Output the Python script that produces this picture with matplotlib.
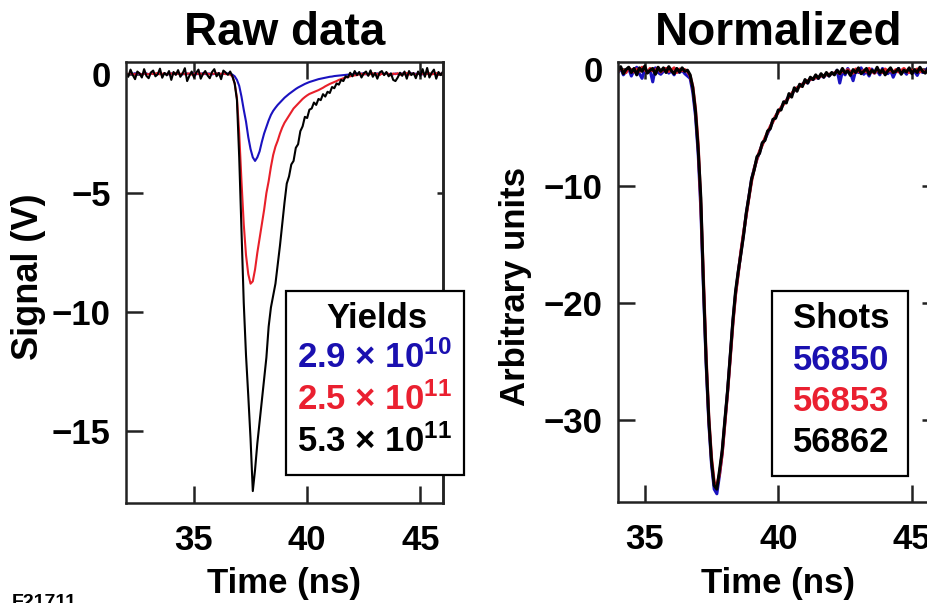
import numpy as np
import matplotlib
matplotlib.use("Agg")
import matplotlib.pyplot as plt
from matplotlib.patches import Rectangle

plt.rcParams['font.family'] = ['Liberation Sans', 'DejaVu Sans']
plt.rcParams['font.weight'] = 'bold'
plt.rcParams['mathtext.fontset'] = 'custom'
plt.rcParams['mathtext.rm'] = 'Liberation Sans:bold'
plt.rcParams['mathtext.it'] = 'Liberation Sans:bold'
plt.rcParams['mathtext.bf'] = 'Liberation Sans:bold'

# ---------------- data ----------------
# raw data sampled every 0.1 ns from 32.0 to 46.0 ns
raw_time = np.round(np.arange(320, 461) / 10.0, 1)

raw_black = [
    0.05, -0.12, 0.18, -0.05, -0.22, 0.10, 0.02, -0.15, 0.20, -0.08,
    -0.18, 0.06, 0.14, -0.10, -0.02, 0.22, -0.16, 0.04, -0.06, 0.12,
    -0.25, 0.08, -0.04, 0.16, -0.12, 0.02, 0.24, -0.30, -0.08, 0.10,
    -0.14, 0.05, 0.18, -0.20, 0.00, 0.12, -0.06, -0.18, 0.08, 0.20,
    -0.10, 0.04, -0.22, 0.14, 0.06, -0.04, 0.10,
    -0.10, -0.40, -1.10,
    -3.50, -6.50, -9.60, -11.80, -13.50, -15.30, -17.50, -16.60, -15.50, -14.60,
    -13.70, -12.80, -11.90, -10.60, -9.80, -9.30, -8.80, -8.00, -7.20, -6.30,
    -5.40, -4.60, -4.30, -3.80, -3.65, -3.10, -2.95, -2.40, -2.20, -1.80,
    -1.85, -1.50, -1.45, -1.20, -1.30, -1.05, -1.10, -0.85, -0.95, -0.75,
    -0.80, -0.55, -0.60, -0.40, -0.45, -0.25, -0.30, -0.10, -0.15,
    0.05, -0.10, 0.12, -0.05, 0.08, -0.15, 0.02, 0.10, -0.08, 0.15,
    -0.12, 0.04, -0.20, 0.06, 0.12, -0.05, 0.08, -0.10, 0.02, -0.25,
    -0.30, -0.15, 0.05, -0.08, 0.10, -0.20, 0.12, -0.05, 0.04, -0.18,
    0.10, -0.08, 0.20, -0.12, 0.25, -0.15, 0.05, 0.18, -0.20, 0.08,
    -0.05, 0.10,
]

raw_red = [
    0.02, -0.01, 0.03, 0.00, -0.02, 0.04, 0.01, -0.03, 0.02, 0.00,
    -0.02, 0.03, -0.01, 0.02, 0.04, -0.02, 0.00, 0.03, -0.03, 0.01,
    0.02, -0.02, 0.04, 0.00, -0.01, 0.03, -0.02, 0.01, 0.02, -0.03,
    0.00, 0.04, -0.01, 0.02, -0.02, 0.03, 0.01, -0.01, 0.02, 0.00,
    0.03, -0.02, 0.01, 0.02, -0.01, 0.00, -0.03,
    -0.10, -0.40, -1.00,
    -2.50, -4.50, -6.30, -7.60, -8.40, -8.80, -8.70, -8.20, -7.50, -6.90,
    -6.30, -5.70, -5.00, -4.50, -3.90, -3.40, -3.05, -2.80, -2.50, -2.25,
    -2.05, -1.90, -1.75, -1.60, -1.45, -1.35, -1.25, -1.15, -1.05, -0.97,
    -0.90, -0.84, -0.80, -0.76, -0.72, -0.68, -0.63, -0.58, -0.52, -0.47,
    -0.42, -0.38, -0.34, -0.30, -0.25, -0.22, -0.18, -0.15, -0.12, -0.10,
    -0.08, -0.06,
    -0.05, -0.02, 0.01, -0.03, 0.02, -0.04, 0.00, 0.03, -0.02, 0.01,
    -0.05, 0.02, -0.03, 0.04, 0.00, -0.06, 0.02, -0.01, 0.03, -0.04,
    0.01, -0.02, 0.04, -0.03, 0.00, 0.02, -0.05, 0.03, -0.01, 0.02,
    -0.04, 0.01, 0.03, -0.02, 0.00, 0.04, -0.03, 0.01, -0.01,
]

raw_blue = [
    0.01, -0.02, 0.02, 0.00, 0.03, -0.01, 0.01, -0.02, 0.00, 0.02,
    -0.01, 0.01, 0.03, -0.02, 0.00, 0.02, -0.01, 0.01, 0.00, -0.02,
    0.02, 0.01, -0.01, 0.03, 0.00, -0.02, 0.01, 0.02, -0.01, 0.00,
    0.02, -0.02, 0.01, 0.00, 0.03, -0.01, 0.01, 0.02, -0.02, 0.00,
    0.01, 0.02, -0.01, 0.01, 0.00, 0.02, 0.00,
    -0.03, -0.10, -0.25,
    -0.50, -0.95, -1.50, -2.00, -2.65, -3.15, -3.50, -3.65, -3.50, -3.25,
    -2.85, -2.50, -2.22, -1.95, -1.72, -1.55, -1.42, -1.30, -1.20, -1.10,
    -1.00, -0.92, -0.84, -0.77, -0.70, -0.63, -0.57, -0.52, -0.47, -0.42,
    -0.38, -0.34, -0.31, -0.28, -0.25, -0.22, -0.20, -0.18, -0.16, -0.14,
    -0.12, -0.11, -0.09, -0.08, -0.07, -0.06, -0.05, -0.04, -0.03, -0.03,
    -0.02,
    0.00, 0.02, -0.01, 0.01, 0.03, -0.02, 0.00, 0.02, -0.01, 0.01,
    0.02, -0.02, 0.01, 0.00, 0.03, -0.01, 0.01, -0.02, 0.02, 0.00,
    -0.01, 0.02, 0.01, -0.02, 0.00, 0.03, -0.01, 0.01, 0.00, 0.02,
    -0.02, 0.01, 0.02, -0.01, 0.00, 0.01, -0.02, 0.02, 0.00, 0.01,
]

# normalized data sampled every 0.1 ns from 34.0 to 46.0 ns
norm_time = np.round(np.arange(340, 461) / 10.0, 1)

norm_56862 = [
    -0.10, 0.20, -0.40, -0.05, 0.15, -0.30, 0.05, -0.50, 0.10, -0.20,
    0.25, -0.35, -0.10, 0.05, -0.45, 0.15, -0.20, 0.10, -0.30, 0.20,
    -0.15, -0.40, 0.05, -0.25, 0.10, -0.20, -0.10,
    -0.5, -1.6, -3.6,
    -6.8, -11.0, -18.5, -25.0, -30.0, -33.5, -35.6, -35.9, -34.3, -32.6,
    -30.0, -27.5, -24.5, -21.5, -19.0, -17.3, -15.8, -14.2, -12.3, -10.9,
    -9.4, -8.6, -7.5, -7.2, -6.3, -6.1, -5.3, -5.1, -4.3, -4.2,
    -3.5, -3.5, -2.8, -2.9, -2.1, -2.4, -1.6, -1.9, -1.3, -1.5,
    -0.9, -1.2, -0.7, -0.9, -0.5, -0.8, -0.4, -0.7, -0.3, -0.6,
    -0.3,
    -0.50, -0.10, -0.40, 0.05, -0.35, -0.15, -0.55, -0.05, -0.30, 0.10,
    -0.40, -0.20, 0.05, -0.45, -0.10, -0.30, 0.15, -0.35, -0.05, -0.50,
    -0.15, 0.10, -0.30, -0.20, 0.05, -0.45, -0.10, -0.25, 0.10, -0.40,
    -0.05, -0.30, 0.15, -0.20, -0.35, 0.05, -0.15, -0.40, 0.00, -0.20,
]

norm_56853 = [
    -0.20, 0.05, -0.15, -0.30, 0.10, -0.10, -0.25, 0.00, -0.20, 0.15,
    -0.05, -0.30, 0.05, -0.15, -0.10, 0.10, -0.25, -0.05, 0.05, -0.20,
    -0.10, 0.10, -0.30, 0.00, -0.15, -0.05, -0.20,
    -0.6, -1.5, -3.4,
    -6.4, -11.5, -18.0, -24.6, -29.8, -33.2, -35.3, -35.6, -34.6, -32.9,
    -30.3, -27.7, -24.8, -21.8, -19.3, -17.5, -15.6, -14.0, -12.5, -11.0,
    -9.6, -8.5, -7.7, -7.0, -6.5, -5.9, -5.4, -4.9, -4.5, -4.0,
    -3.7, -3.3, -3.0, -2.7, -2.4, -2.1, -1.8, -1.6, -1.5, -1.3,
    -1.15, -1.0, -0.9, -0.8, -0.75, -0.7, -0.6, -0.55, -0.5, -0.45,
    -0.4,
    -0.35, -0.20, -0.40, -0.15, -0.30, -0.05, -0.25, -0.35, 0.00, -0.20,
    -0.30, -0.10, -0.25, 0.05, -0.20, -0.35, -0.10, -0.15, -0.30, 0.00,
    -0.20, -0.10, -0.30, -0.05, -0.25, -0.15, 0.05, -0.20, -0.30, -0.10,
    -0.15, 0.00, -0.25, -0.10, -0.30, -0.05, -0.20, -0.15, -0.10, -0.25,
]

norm_56850 = [
    -0.30, 0.10, -0.50, -0.20, 0.05, -0.60, -0.10, 0.15, -0.40, -0.80,
    0.00, -0.25, -0.10, -1.10, 0.10, -0.30, -0.45, -0.20, 0.05, -0.35,
    -0.15, -0.50, 0.00, -0.30, -0.10, -0.40, -0.60,
    -0.8, -2.0, -4.0,
    -7.2, -12.0, -18.8, -25.3, -30.3, -33.8, -35.9, -36.3, -34.7, -32.8,
    -30.2, -27.6, -24.6, -21.6, -19.2, -17.4, -15.7, -14.1, -12.4, -10.9,
    -9.4, -8.5, -7.7, -7.1, -6.4, -6.0, -5.5, -5.0, -4.4, -4.1,
    -3.6, -3.4, -2.9, -2.7, -2.3, -2.2, -1.8, -1.7, -1.4, -1.3,
    -1.1, -1.2, -0.8, -0.9, -0.7, -0.8, -0.5, -0.7, -0.4, -0.6,
    -0.35,
    -0.40, -0.10, -1.20, -0.20, -0.50, 0.05, -0.35, -1.00, -0.10, -0.30,
    0.10, -0.45, -0.20, -0.60, 0.00, -0.35, -0.15, -0.50, 0.05, -0.25,
    -0.40, -0.10, -0.70, -0.20, 0.05, -0.35, -0.15, -0.45, 0.00, -0.30,
    -0.20, -0.55, -0.05, -0.30, -0.15, 0.10, -0.40, -0.20, -0.35, -0.10,
]

yield_labels = ['2.9 × 10$^{10}$', '2.5 × 10$^{11}$', '5.3 × 10$^{11}$']
shot_labels = ['56850', '56853', '56862']
x_ticks = [35, 40, 45]
raw_yticks = [0, -5, -10, -15]
norm_yticks = [0, -10, -20, -30]

BLUE = '#1a12c0'
RED = '#e8202a'
BLACK = '#000000'
TXT_BLUE = '#1a10b0'
TXT_RED = '#ea2030'

# ---------------- figure ----------------
W, H = 928, 603
fig = plt.figure(figsize=(W / 100, H / 100), dpi=100)

def px_axes(l, t, r, b):
    return fig.add_axes([l / W, 1 - b / H, (r - l) / W, (b - t) / H])

ax1 = px_axes(126, 62, 443, 503)
ax2 = px_axes(618, 62, 938.6, 502)

FS = 25
SPINE = '#222222'

for ax in (ax1, ax2):
    for s in ax.spines.values():
        s.set_linewidth(1.8)
        s.set_color(SPINE)
    ax.tick_params(axis='both', direction='in', length=12, width=1.8,
                   color=SPINE, labelsize=FS, top=True, right=True)
    ax.tick_params(axis='y', pad=11)
    ax.tick_params(axis='x', pad=15)
    ax.set_xticks(x_ticks)

# left panel
ax1.plot(raw_time, raw_blue, color=BLUE, lw=1.5)
ax1.plot(raw_time, raw_red, color=RED, lw=1.5)
ax1.plot(raw_time, raw_black, color=BLACK, lw=1.5)
ax1.set_xlim(32, 46)
ax1.set_ylim(-18, 0.5)
ax1.set_yticks(raw_yticks)
ax1.tick_params(axis='y', right=False)
sec = ax1.secondary_yaxis('right')
sec.set_yticks(raw_yticks)
sec.tick_params(direction='in', length=4, width=1.8, color=SPINE, labelright=False)
sec.spines['right'].set_linewidth(1.8)
sec.spines['right'].set_color(SPINE)
ax1.set_title('Raw data', fontsize=33, fontweight='bold', pad=12)

# right panel
ax2.plot(norm_time, norm_56850, color=BLUE, lw=2.2)
ax2.plot(norm_time, norm_56853, color=RED, lw=2.2)
ax2.plot(norm_time, norm_56862, color=BLACK, lw=2.2)
ax2.set_xlim(34, 46)
ax2.set_ylim(-37, 0.6)
ax2.set_yticks(norm_yticks)
ax2.set_title('Normalized', fontsize=33, fontweight='bold', pad=12)

# axis labels
fig.text(284.5 / W, 1 - 593 / H, 'Time (ns)', ha='center', va='baseline', fontsize=FS)
fig.text(778 / W, 1 - 593 / H, 'Time (ns)', ha='center', va='baseline', fontsize=FS)
fig.text(29 / W, 1 - 277 / H, 'Signal (V)', ha='center', va='center', rotation=90, fontsize=26)
fig.text(516 / W, 1 - 287 / H, 'Arbitrary units', ha='center', va='center', rotation=90, fontsize=FS)
fig.text(12 / W, 1 - 594 / H, 'F21711', ha='left', va='top', fontsize=14)

# legend boxes
def box(l, t, r, b):
    fig.add_artist(Rectangle((l / W, 1 - b / H), (r - l) / W, (b - t) / H,
                             transform=fig.transFigure, facecolor='white',
                             edgecolor='black', lw=1.6, zorder=5))

box(286, 291, 464, 475)
fig.text(377 / W, 1 - 328 / H, 'Yields', ha='center', va='baseline', fontsize=FS, zorder=6)
for lab, col, yb in zip(yield_labels, [TXT_BLUE, TXT_RED, BLACK], [368, 410, 452]):
    fig.text(297 / W, 1 - yb / H, lab, ha='left', va='baseline', fontsize=FS, color=col, zorder=6)

box(772, 291, 908, 476)
fig.text(793 / W, 1 - 328 / H, 'Shots', ha='left', va='baseline', fontsize=FS, zorder=6)
for lab, col, yb in zip(shot_labels, [TXT_BLUE, TXT_RED, BLACK], [370, 411, 452]):
    fig.text(793 / W, 1 - yb / H, lab, ha='left', va='baseline', fontsize=FS, color=col, zorder=6)

fig.savefig('out.png', dpi=100)
